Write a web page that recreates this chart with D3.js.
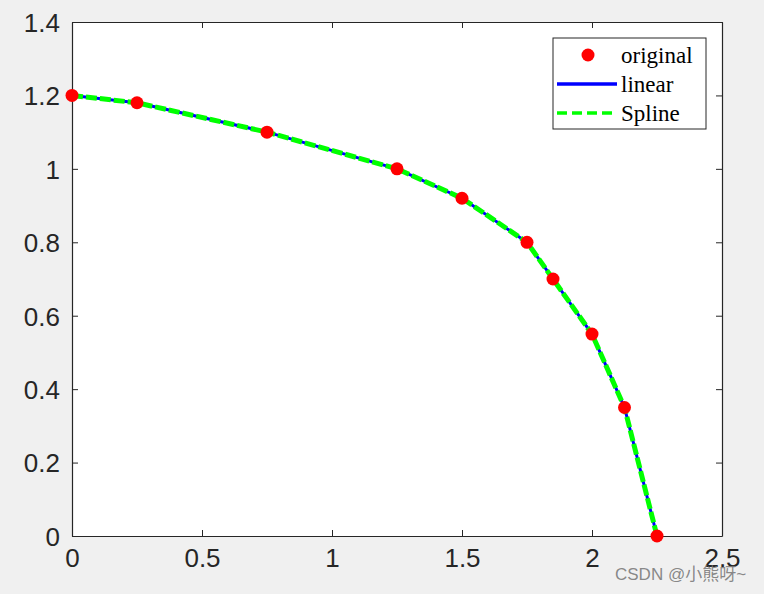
<!DOCTYPE html>
<html><head><meta charset="utf-8">
<script src="https://cdn.jsdelivr.net/npm/d3@7"></script>
<style>html,body{margin:0;padding:0;background:#f0f0f0;}</style>
</head><body>
<script>
const xValues = [0, 0.25, 0.75, 1.25, 1.5, 1.75, 1.85, 2.0, 2.125, 2.25];
const yValues = [1.2, 1.18, 1.1, 1.0, 0.92, 0.8, 0.7, 0.55, 0.35, 0];
const xTicks = [0, 0.5, 1, 1.5, 2, 2.5];
const yTicks = [0, 0.2, 0.4, 0.6, 0.8, 1, 1.2, 1.4];
const legendLabels = ["original", "linear", "Spline"];

const W = 764, H = 594;
const L = 72, T = 22, R = 722, B = 536;
const svg = d3.select("body").append("svg").attr("width", W).attr("height", H)
  .style("display","block").style("background","#f0f0f0");

const x = d3.scaleLinear().domain([0, 2.5]).range([L, R]);
const y = d3.scaleLinear().domain([0, 1.4]).range([B, T]);

svg.append("rect").attr("x", L).attr("y", T).attr("width", R-L).attr("height", B-T).attr("fill", "#fff");

const axc = "#262626";
const fmt = d => String(d);
const gx = svg.append("g").attr("transform", `translate(0,${B})`)
  .call(d3.axisBottom(x).tickValues(xTicks).tickFormat(fmt).tickSizeInner(-6).tickSizeOuter(0).tickPadding(13));
const gxt = svg.append("g").attr("transform", `translate(0,${T})`)
  .call(d3.axisTop(x).tickValues(xTicks).tickFormat("").tickSizeInner(-6).tickSizeOuter(0));
const gy = svg.append("g").attr("transform", `translate(${L},0)`)
  .call(d3.axisLeft(y).tickValues(yTicks).tickFormat(fmt).tickSizeInner(-6).tickSizeOuter(0).tickPadding(12));
const gyr = svg.append("g").attr("transform", `translate(${R},0)`)
  .call(d3.axisRight(y).tickValues(yTicks).tickFormat("").tickSizeInner(-6).tickSizeOuter(0));
[gx, gxt, gy, gyr].forEach(g => {
  g.selectAll("path").attr("stroke", axc).attr("stroke-width", 1.2);
  g.selectAll("line").attr("stroke", axc).attr("stroke-width", 1);
  g.selectAll("text").attr("fill", axc).style("font-family", "Liberation Sans, Arial, sans-serif").style("font-size", "26px");
});
gx.selectAll("text").attr("dy", "0.71em");
gy.selectAll("text").attr("dy", "0.36em");

const pts = xValues.map((d, i) => [d, yValues[i]]);
const lineLin = d3.line().x(d => x(d[0])).y(d => y(d[1]));
const lineSp = d3.line().x(d => x(d[0])).y(d => y(d[1])).curve(d3.curveLinear);

svg.append("path").attr("d", lineLin(pts)).attr("fill", "none").attr("stroke", "#0000ff").attr("stroke-width", 3);
svg.append("path").attr("d", lineSp(pts)).attr("fill", "none").attr("stroke", "#00ff00").attr("stroke-width", 5)
  .attr("stroke-dasharray", "11,3");
svg.selectAll("circle.pt").data(pts).enter().append("circle").attr("class","pt")
  .attr("cx", d => x(d[0])).attr("cy", d => y(d[1])).attr("r", 6.5).attr("fill", "#ff0000");

// legend
const lg = svg.append("g");
lg.append("rect").attr("x", 553).attr("y", 38).attr("width", 153).attr("height", 91)
  .attr("fill", "#fff").attr("stroke", axc).attr("stroke-width", 1);
const rows = [55, 84, 113];
lg.append("circle").attr("cx", 588).attr("cy", rows[0]).attr("r", 6.5).attr("fill", "#ff0000");
lg.append("line").attr("x1", 557).attr("x2", 617).attr("y1", rows[1]).attr("y2", rows[1]).attr("stroke", "#0000ff").attr("stroke-width", 3.5);
lg.append("line").attr("x1", 557).attr("x2", 617).attr("y1", rows[2]).attr("y2", rows[2]).attr("stroke", "#00ff00").attr("stroke-width", 3.5)
  .attr("stroke-dasharray", "10,5");
legendLabels.forEach((t, i) => {
  lg.append("text").attr("x", 621).attr("y", rows[i]).attr("dy", "0.33em").text(t)
    .attr("fill", "#000").style("font-family", "Liberation Serif, Times New Roman, serif").style("font-size", "23px");
});

// watermark
svg.append("text").attr("x", 615).attr("y", 580).text("CSDN @小熊呀~")
  .attr("fill", "#7a7a7a").attr("fill-opacity", 0.9)
  .style("font-family", "Liberation Sans, Noto Sans CJK SC, sans-serif").style("font-size", "17px");
</script>
</body></html>
